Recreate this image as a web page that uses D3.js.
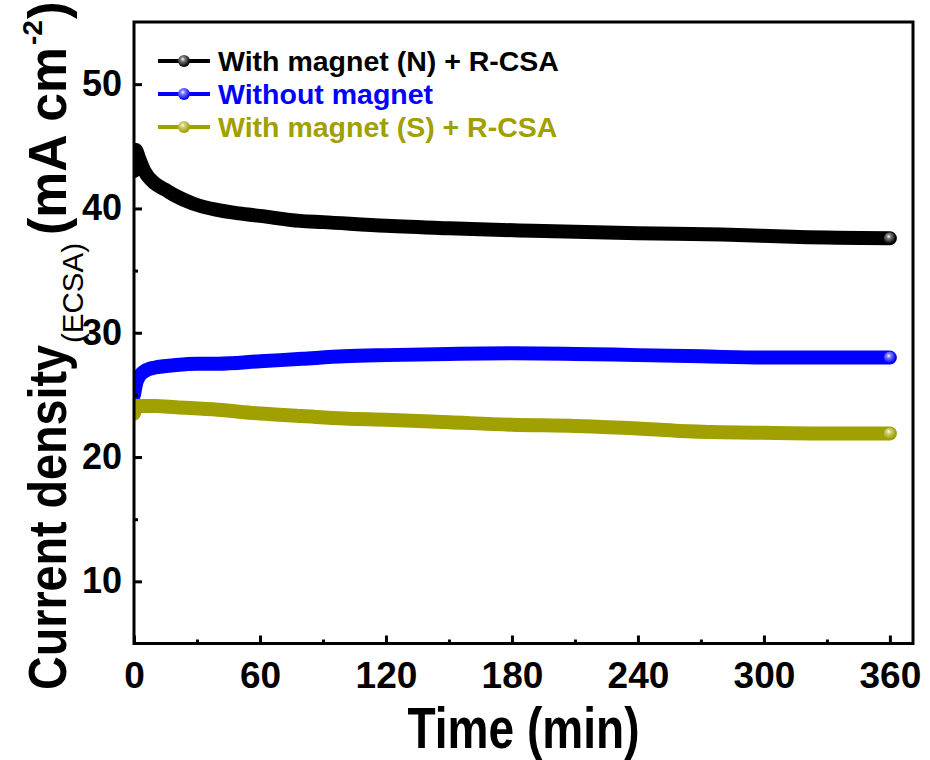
<!DOCTYPE html>
<html>
<head>
<meta charset="utf-8">
<script src="https://cdn.jsdelivr.net/npm/d3@7"></script>
<style>
  body { margin: 0; background: #fff; }
  svg { display: block; }
  text { font-family: "Liberation Sans", Arial, sans-serif; }
</style>
</head>
<body>
<svg id="chart" width="930" height="760"></svg>
<script>
// series names and colours
var seriesNames = ["With magnet (N) + R-CSA", "Without magnet", "With magnet (S) + R-CSA"];
var seriesColors = ["#000000", "#0000ff", "#a0a000"];

// time (min) / current density (mA cm-2)
var timeN = [0, 0.8, 2.5, 5, 10, 15, 20, 28, 39, 50, 60, 79, 90, 120, 150, 190, 240, 280, 317, 360];
var currentN = [43.0, 44.7, 44.0, 43.0, 42.0, 41.5, 41.0, 40.4, 39.9, 39.6, 39.4, 39.0, 38.9, 38.6, 38.4, 38.2, 38.0, 37.9, 37.7, 37.6];

var timeNone = [0, 1, 2.5, 5, 10, 20, 30, 40, 60, 80, 100, 120, 150, 180, 210, 240, 270, 300, 330, 360];
var currentNone = [25.0, 25.9, 26.5, 26.9, 27.2, 27.4, 27.5, 27.5, 27.7, 27.9, 28.1, 28.2, 28.3, 28.35, 28.3, 28.2, 28.1, 28.0, 28.0, 28.0];

var timeS = [0, 1, 10, 20, 40, 60, 80, 100, 120, 150, 180, 210, 240, 260, 280, 300, 330, 360];
var currentS = [23.5, 24.1, 24.1, 24.0, 23.8, 23.5, 23.3, 23.1, 23.0, 22.8, 22.6, 22.5, 22.3, 22.1, 22.0, 21.95, 21.9, 21.9];

var xTicks = [0, 60, 120, 180, 240, 300, 360];
var xMinorTicks = [30, 90, 150, 210, 270, 330];
var yTicks = [10, 20, 30, 40, 50];
var yMinorTicks = [15, 25, 35, 45];

var svg = d3.select("#chart");
var plotLeft = 134, plotRight = 913, plotTop = 22, plotBottom = 643.5;

var x = d3.scaleLinear().domain([0, 371]).range([plotLeft, plotRight]);
var y = d3.scaleLinear().domain([5, 55]).range([plotBottom, plotTop]);

var defs = svg.append("defs");
defs.append("clipPath").attr("id", "plotClip")
    .append("rect")
    .attr("x", plotLeft).attr("y", plotTop)
    .attr("width", plotRight - plotLeft).attr("height", plotBottom - plotTop);

// shiny ball gradients for markers
seriesColors.forEach(function(c, i) {
    var g = defs.append("radialGradient")
        .attr("id", "ball" + i)
        .attr("cx", "40%").attr("cy", "35%").attr("r", "60%");
    g.append("stop").attr("offset", "0%").attr("stop-color", "#ffffff");
    g.append("stop").attr("offset", "30%").attr("stop-color", d3.interpolateRgb("#ffffff", c)(0.5));
    g.append("stop").attr("offset", "100%").attr("stop-color", c);
});

var series = [
    { t: timeN, v: currentN },
    { t: timeNone, v: currentNone },
    { t: timeS, v: currentS }
];

var line = d3.line()
    .x(function(d) { return x(d[0]); })
    .y(function(d) { return y(d[1]); })
    .curve(d3.curveMonotoneX);

var plot = svg.append("g").attr("clip-path", "url(#plotClip)");

series.forEach(function(s, i) {
    var pts = d3.zip(s.t, s.v);
    plot.append("path")
        .datum(pts)
        .attr("fill", "none")
        .attr("stroke", seriesColors[i])
        .attr("stroke-width", 14)
        .attr("stroke-linecap", "round")
        .attr("stroke-linejoin", "round")
        .attr("d", line);
    var last = pts[pts.length - 1];
    plot.append("circle")
        .attr("cx", x(last[0]))
        .attr("cy", y(last[1]))
        .attr("r", 6)
        .attr("fill", "url(#ball" + i + ")");
});

// frame
svg.append("rect")
    .attr("x", plotLeft).attr("y", plotTop)
    .attr("width", plotRight - plotLeft).attr("height", plotBottom - plotTop)
    .attr("fill", "none")
    .attr("stroke", "#000")
    .attr("stroke-width", 3);

// axes, ticks inward
var xAxis = svg.append("g")
    .attr("transform", "translate(0," + plotBottom + ")")
    .call(d3.axisBottom(x).tickValues(xTicks).tickSize(-8).tickPadding(18).tickFormat(d3.format("d")));
var xMinor = svg.append("g")
    .attr("transform", "translate(0," + plotBottom + ")")
    .call(d3.axisBottom(x).tickValues(xMinorTicks).tickSize(-4).tickFormat(""));
var yAxis = svg.append("g")
    .attr("transform", "translate(" + plotLeft + ",0)")
    .call(d3.axisLeft(y).tickValues(yTicks).tickSize(-8).tickPadding(12).tickFormat(d3.format("d")));
var yMinor = svg.append("g")
    .attr("transform", "translate(" + plotLeft + ",0)")
    .call(d3.axisLeft(y).tickValues(yMinorTicks).tickSize(-4).tickFormat(""));

[xAxis, xMinor, yAxis, yMinor].forEach(function(a) {
    a.select(".domain").remove();
    a.selectAll(".tick line").attr("stroke", "#000").attr("stroke-width", 3);
});

xAxis.selectAll(".tick text")
    .attr("fill", "#000")
    .style("font-size", "37px")
    .style("font-weight", "bold")
    .attr("dy", "0.71em");

yAxis.selectAll(".tick text")
    .attr("fill", "#000")
    .style("font-size", "36px")
    .style("font-weight", "bold");

// axis titles
svg.append("text")
    .attr("x", (plotLeft + plotRight) / 2)
    .attr("y", 748)
    .attr("text-anchor", "middle")
    .style("font-size", "58px")
    .style("font-weight", "bold")
    .attr("textLength", 232)
    .attr("lengthAdjust", "spacingAndGlyphs")
    .text("Time (min)");

// y title built from pieces along the rotated baseline
var yTitle = svg.append("g")
    .attr("transform", "translate(66,690) rotate(-90)")
    .style("font-weight", "bold");
yTitle.append("text")
    .attr("x", 0).attr("y", 0)
    .style("font-size", "53px")
    .attr("textLength", 345).attr("lengthAdjust", "spacingAndGlyphs")
    .text("Current density");
yTitle.append("text")
    .attr("x", 347).attr("y", 17)
    .style("font-size", "29px")
    .style("font-weight", "normal")
    .attr("textLength", 100).attr("lengthAdjust", "spacingAndGlyphs")
    .text("(ECSA)");
yTitle.append("text")
    .attr("x", 455).attr("y", 0)
    .style("font-size", "53px")
    .attr("textLength", 188).attr("lengthAdjust", "spacingAndGlyphs")
    .text("(mA cm");
yTitle.append("text")
    .attr("x", 645).attr("y", -24)
    .style("font-size", "28px")
    .text("-2");
yTitle.append("text")
    .attr("x", 671).attr("y", 0)
    .style("font-size", "53px")
    .text(")");

// legend
var legend = svg.append("g");
seriesNames.forEach(function(name, i) {
    var ly = 61 + i * 33;
    legend.append("line")
        .attr("x1", 158).attr("x2", 210)
        .attr("y1", ly).attr("y2", ly)
        .attr("stroke", seriesColors[i])
        .attr("stroke-width", 4);
    legend.append("circle")
        .attr("cx", 184).attr("cy", ly)
        .attr("r", 6)
        .attr("fill", "url(#ball" + i + ")");
    legend.append("text")
        .attr("x", 218).attr("y", ly)
        .attr("dy", "0.36em")
        .attr("fill", seriesColors[i])
        .style("font-size", "28.5px")
        .style("font-weight", "bold")
        .text(name);
});
</script>
</body>
</html>
